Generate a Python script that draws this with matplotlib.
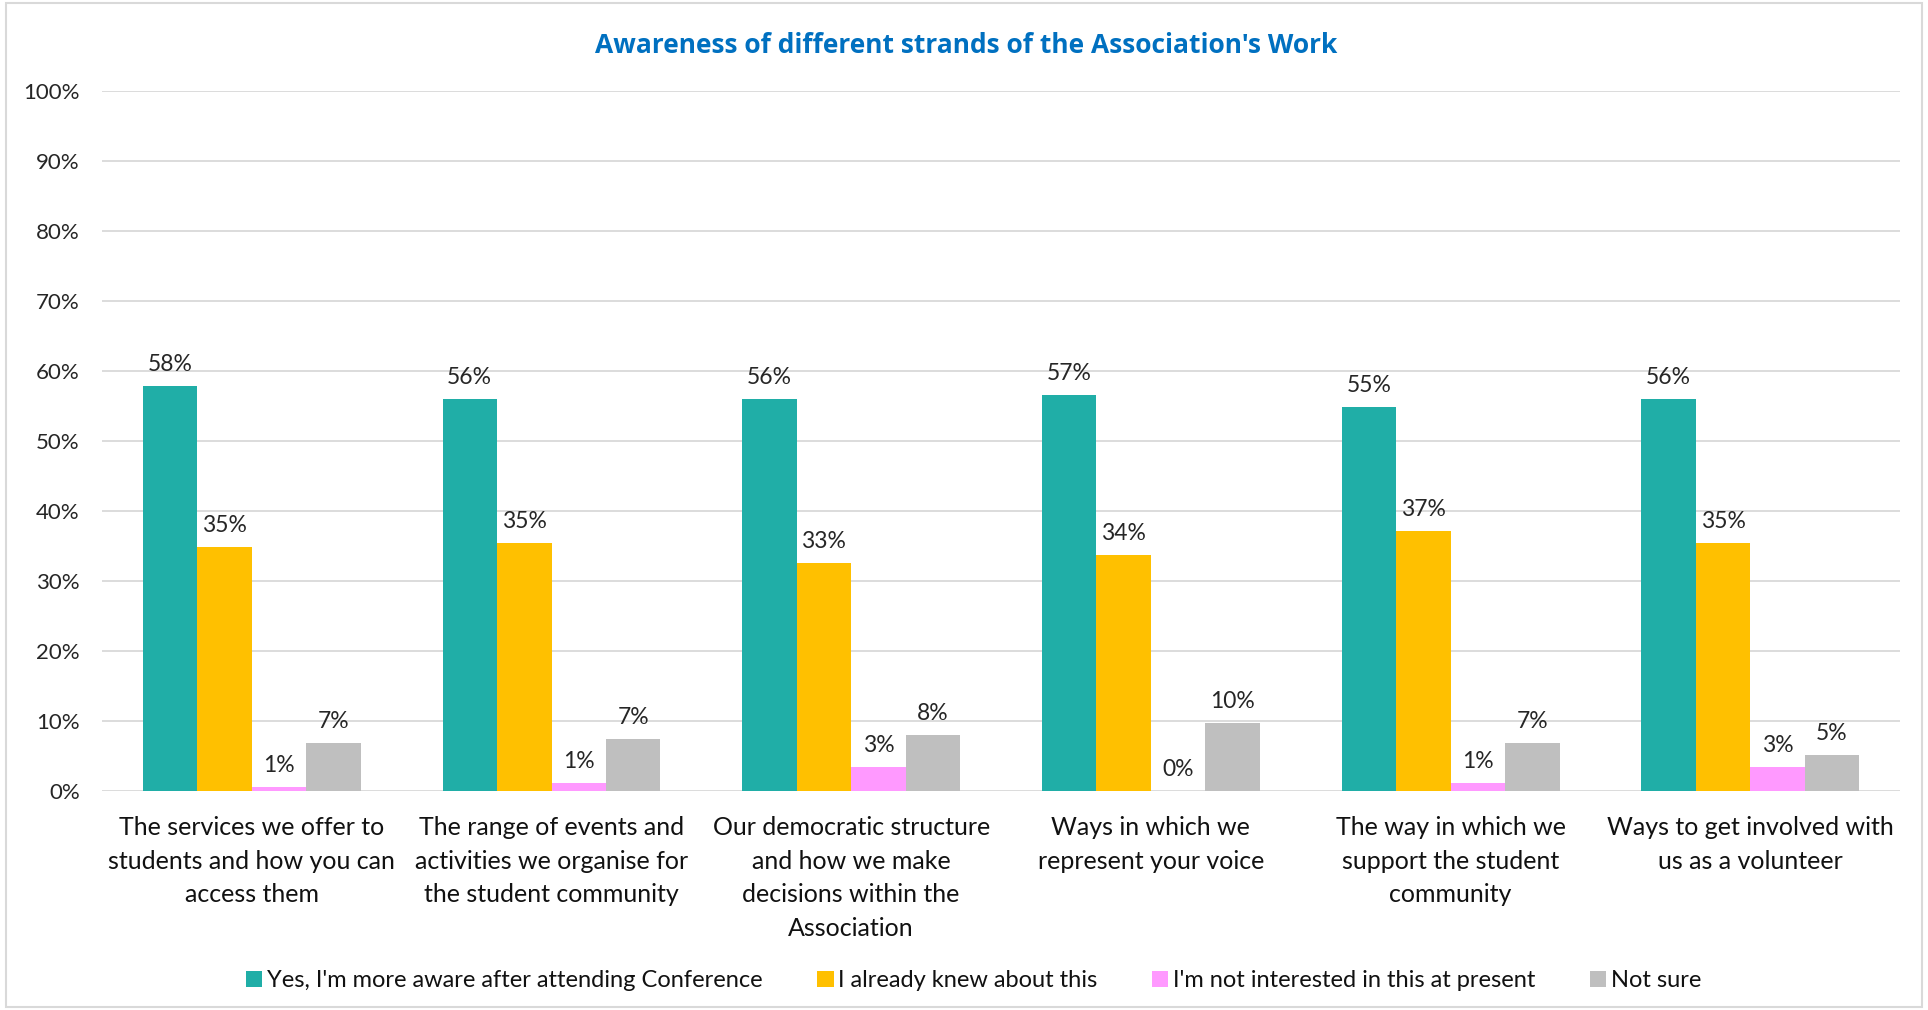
import numpy as np
import matplotlib
matplotlib.use("Agg")
from matplotlib import pyplot as plt
from matplotlib.patches import Patch, Rectangle
from matplotlib.ticker import PercentFormatter

plt.rcParams['font.family'] = ['Lato', 'DejaVu Sans']

categories = [
    "The services we offer to\nstudents and how you can\naccess them",
    "The range of events and\nactivities we organise for\nthe student community",
    "Our democratic structure\nand how we make\ndecisions within the\nAssociation",
    "Ways in which we\nrepresent your voice",
    "The way in which we\nsupport the student\ncommunity",
    "Ways to get involved with\nus as a volunteer",
]
series_names = [
    "Yes, I'm more aware after attending Conference",
    "I already knew about this",
    "I'm not interested in this at present",
    "Not sure",
]
more_aware = [57.8, 56.0, 56.0, 56.6, 54.8, 56.0]
already_knew = [34.9, 35.4, 32.6, 33.7, 37.2, 35.4]
not_interested = [0.6, 1.1, 3.4, 0.0, 1.1, 3.4]
not_sure = [6.9, 7.4, 8.0, 9.7, 6.9, 5.1]
colors = ["#20AEA7", "#FFC000", "#FF99FF", "#BFBFBF"]

series = [more_aware, already_knew, not_interested, not_sure]

fig = plt.figure(figsize=(19.28, 10.1), dpi=100)
ax = fig.add_axes([0.0529, 0.2168, 0.9326, 0.6931])

x = np.arange(len(categories))
w = 1 / 5.5
for k, (vals, c) in enumerate(zip(series, colors)):
    pos = x + (k - 1.5) * w
    bars = ax.bar(pos, vals, width=w, color=c, zorder=3)
    for b, v in zip(bars, vals):
        ax.annotate(f"{v:.0f}%", (b.get_x() + b.get_width() / 2, v),
                    xytext=(0, 15.5), textcoords="offset points",
                    ha="center", va="center", fontsize=16.5, color="#262626")

ax.set_xlim(-0.5, len(categories) - 0.5)
ax.set_ylim(0, 100)
ax.set_yticks(np.arange(0, 101, 10))
ax.yaxis.set_major_formatter(PercentFormatter(decimals=0))
ax.grid(axis="y", color="#D9D9D9", linewidth=1.3, zorder=0)
for s in ["top", "right", "left", "bottom"]:
    ax.spines[s].set_visible(False)
ax.tick_params(axis="y", length=0, pad=16, labelsize=16, labelcolor="#262626")
ax.set_xticks(x)
ax.set_xticklabels(categories, fontsize=18, color="#111111", linespacing=1.56)
ax.tick_params(axis="x", length=0, pad=18)

fig.text(0.501, 0.955, "Awareness of different strands of the Association's Work",
         ha="center", va="center", fontsize=19, fontweight="bold",
         color="#0070C0", family="Open Sans")

handles = [Patch(facecolor=c, edgecolor="none") for c in colors]
fig.legend(handles, series_names, loc="center", bbox_to_anchor=(0.505, 0.029),
           ncol=4, frameon=False, fontsize=17, handlelength=0.7, handleheight=0.7,
           handletextpad=0.2, columnspacing=2.3, labelcolor="#111111")

fig.patches.append(Rectangle((0.003, 0.003), 0.994, 0.994, transform=fig.transFigure,
                             fill=False, edgecolor="#D9D9D9", linewidth=1.5))

fig.savefig("out.png", dpi=100, facecolor="white")
